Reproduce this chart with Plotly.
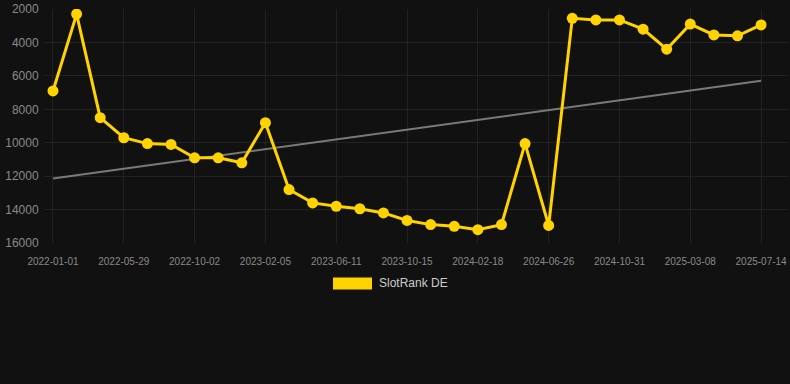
import numpy as np
import plotly.graph_objects as go

dates = [
    "2022-01-01", "2022-02-19", "2022-04-09", "2022-05-29", "2022-07-10", "2022-08-21",
    "2022-10-02", "2022-11-13", "2022-12-25", "2023-02-05", "2023-03-19", "2023-04-30",
    "2023-06-11", "2023-07-23", "2023-09-03", "2023-10-15", "2023-11-26", "2024-01-07",
    "2024-02-18", "2024-03-31", "2024-05-12", "2024-06-26", "2024-08-07", "2024-09-19",
    "2024-10-31", "2024-12-13", "2025-01-24", "2025-03-08", "2025-04-19", "2025-05-31",
    "2025-07-14",
]
rank_de = [
    6900, 2300, 8500, 9700, 10050, 10100, 10900, 10900, 11200, 8800, 12800,
    13600, 13800, 13950, 14200, 14650, 14900, 15000, 15200, 14900, 10050, 14950,
    2550, 2650, 2650, 3200, 4400, 2900, 3550, 3600, 2950,
]
tick_labels = dates[::3]
y_ticks = [2000, 4000, 6000, 8000, 10000, 12000, 14000, 16000]
y_tick_labels = [str(v) for v in y_ticks]
series_name = "SlotRank DE"

idx = np.arange(len(dates))
slope, intercept = np.polyfit(idx, rank_de, 1)
trend = slope * idx + intercept

BG = "#111111"
GOLD = "#FFD300"

fig = go.Figure()
fig.add_trace(go.Scatter(
    x=idx, y=trend, mode="lines",
    line=dict(color="rgba(140,140,140,0.85)", width=2),
    hoverinfo="skip", showlegend=False,
))
fig.add_trace(go.Scatter(
    x=idx, y=rank_de, mode="lines+markers", name=series_name,
    line=dict(color=GOLD, width=3),
    marker=dict(color=GOLD, size=11),
    text=dates, showlegend=False,
))

fig.update_layout(
    width=790, height=384,
    paper_bgcolor=BG, plot_bgcolor=BG,
    margin=dict(l=44, r=2, t=6, b=141),
    font=dict(family="Liberation Sans, Arial, sans-serif", size=11, color="#8a8a8a"),
    xaxis=dict(
        range=[-0.381, 31.14],
        tickmode="array",
        tickvals=idx[::3], ticktext=tick_labels,
        showgrid=True, gridcolor="#222222", gridwidth=1,
        zeroline=False, showline=False,
        ticks="outside", ticklen=9, tickcolor=BG,
        tickfont=dict(size=10, color="#8a8a8a"),
        ticklabeloverflow="allow",
    ),
    yaxis=dict(
        range=[16000, 1995],
        tickmode="array",
        tickvals=y_ticks, ticktext=y_tick_labels,
        showgrid=True, gridcolor="#222222", gridwidth=1,
        zeroline=False, showline=False,
        ticks="outside", ticklen=2, tickcolor=BG,
        tickfont=dict(size=12, color="#8a8a8a"),
        ticklabeloverflow="allow",
    ),
    showlegend=False,
    shapes=[dict(
        type="rect", xref="paper", yref="paper",
        x0=(333 - 44) / 744, x1=(372 - 44) / 744,
        y0=(243 - 290) / 237, y1=(243 - 278) / 237,
        fillcolor=GOLD, line=dict(width=0),
    )],
    annotations=[dict(
        xref="paper", yref="paper",
        x=(377 - 44) / 744, y=(243 - 284) / 237,
        xanchor="left", yanchor="middle",
        text=series_name, showarrow=False,
        font=dict(size=12, color="#cccccc"),
    )],
)

fig.write_html(
    "out.html",
    config={"displayModeBar": False},
    post_script="document.body.style.margin='0';document.body.style.background='#111111';",
)
